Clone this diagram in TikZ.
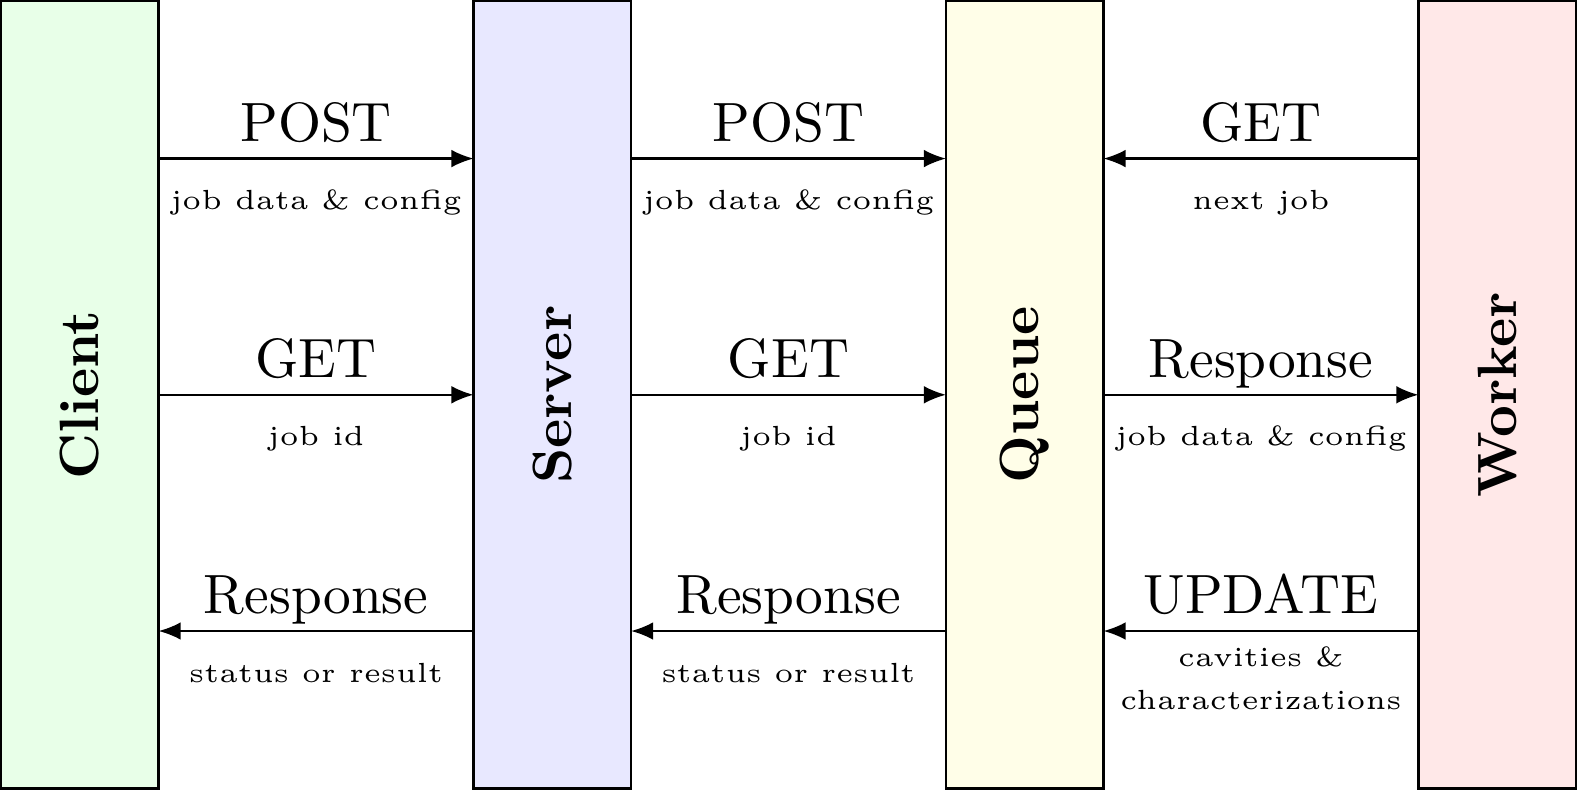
\documentclass[tikz,border=0pt]{standalone}
\usetikzlibrary{arrows.meta}
\begin{document}
\begin{tikzpicture}[
  box/.style={draw=black, line width=0.4pt, minimum width=1cm, minimum height=5cm, inner sep=0pt, outer sep=0pt},
  boxlbl/.style={rotate=90, font=\bfseries, inner sep=0pt},
  arr/.style={-{Latex[length=4pt,width=3.2pt]}, line width=0.4pt},
  biglbl/.style={midway, anchor=base, yshift=0.11cm, inner sep=0pt, font=\normalsize},
  smalllbl/.style={midway, anchor=base, yshift=-0.325cm, inner sep=0pt, font=\tiny},
]
\node[box, fill=green!9] (client) at (0.5,2.5) {};
\node[box, fill=blue!9] (server) at (3.5,2.5) {};
\node[box, fill=yellow!9] (queue) at (6.5,2.5) {};
\node[box, fill=red!9] (worker) at (9.5,2.5) {};
\node[boxlbl] (clientlbl) at (client.center) {Client};
\node[boxlbl] (serverlbl) at (server.center) {Server};
\node[boxlbl] (queuelbl) at (queue.center) {Queue};
\node[boxlbl] (workerlbl) at (worker.center) {Worker};
\coordinate (r1) at (0,4);
\coordinate (r2) at (0,2.5);
\coordinate (r3) at (0,1);
% Client -- Server
\draw[arr] (client.east |- r1) -- node[biglbl] (a1) {POST} node[smalllbl] (b1) {job data \& config} (server.west |- r1);
\draw[arr] (client.east |- r2) -- node[biglbl] (a2) {GET} node[smalllbl] (b2) {job id} (server.west |- r2);
\draw[arr] (server.west |- r3) -- node[biglbl] (a3) {Response} node[smalllbl] (b3) {status or result} (client.east |- r3);
% Server -- Queue
\draw[arr] (server.east |- r1) -- node[biglbl] (a4) {POST} node[smalllbl] (b4) {job data \& config} (queue.west |- r1);
\draw[arr] (server.east |- r2) -- node[biglbl] (a5) {GET} node[smalllbl] (b5) {job id} (queue.west |- r2);
\draw[arr] (queue.west |- r3) -- node[biglbl] (a6) {Response} node[smalllbl] (b6) {status or result} (server.east |- r3);
% Queue -- Worker
\draw[arr] (worker.west |- r1) -- node[biglbl] (a7) {GET} node[smalllbl] (b7) {next job} (queue.east |- r1);
\draw[arr] (queue.east |- r2) -- node[biglbl] (a8) {Response} node[smalllbl] (b8) {job data \& config} (worker.west |- r2);
\draw[arr] (worker.west |- r3) -- node[biglbl] (a9) {UPDATE} node[midway, anchor=base, yshift=-0.5cm, inner sep=0pt, font=\tiny, align=center] (b9) {cavities \&\\[1.8pt] characterizations} (queue.east |- r3);
\end{tikzpicture}
\end{document}
